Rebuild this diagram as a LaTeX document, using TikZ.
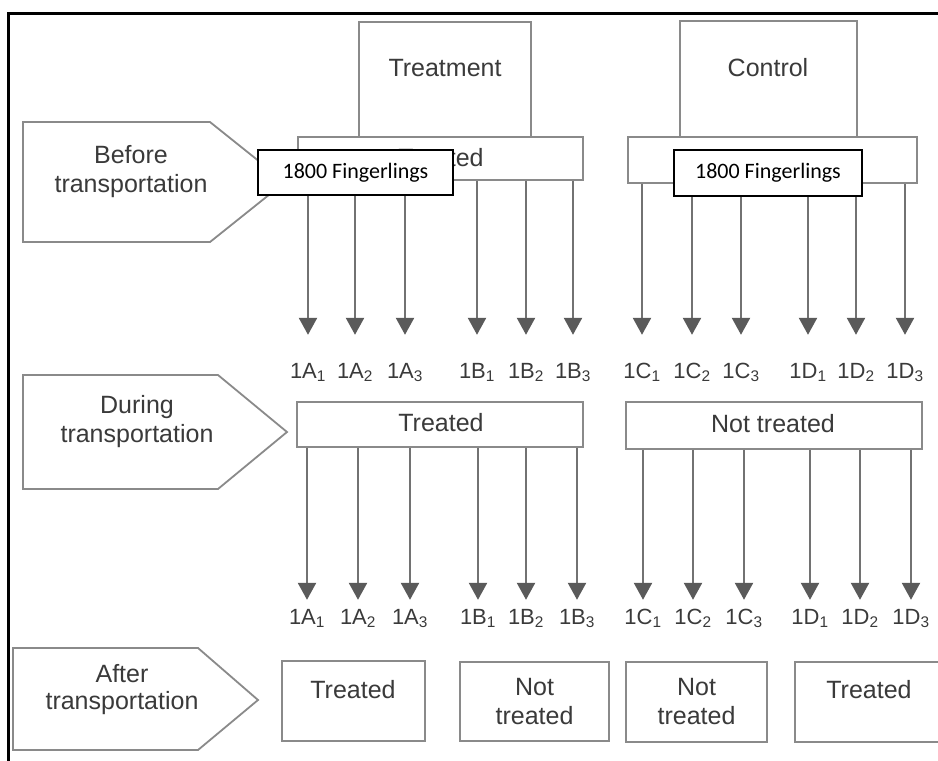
\documentclass[tikz,border=0pt]{standalone}
\usepackage{fontspec}
\setmainfont{Liberation Sans}
\newfontfamily\calibri{Carlito}
\usepackage{xcolor}
\usetikzlibrary{arrows.meta}
\usetikzlibrary{positioning}

\definecolor{boxgray}{HTML}{8A8A8A}
\definecolor{arrgray}{HTML}{727272}
\definecolor{tipgray}{HTML}{5A5A5A}
\definecolor{txtgray}{HTML}{3A3A3A}

\tikzset{
  grpbox/.style={draw=boxgray, line width=1.8pt, fill=white, inner sep=0},
  txt/.style={text=txtgray, font=\fontsize{25}{29}\selectfont, align=center, inner sep=0},
  sublbl/.style={text=txtgray, font=\fontsize{22}{26}\selectfont, anchor=base, inner sep=0, text height=15pt},
  fing/.style={draw=black, line width=1.5pt, fill=white, inner sep=0, font=\calibri\fontsize{22}{26}\selectfont},
  arr/.style={draw=arrgray, line width=2.4pt, -{Triangle[width=18pt,length=17pt,color=tipgray]}},
  stage/.style={draw=boxgray, line width=1.8pt, fill=white},
}

\begin{document}
\begin{tikzpicture}[x=1pt, y=-1pt]
	\useasboundingbox (0,0) rectangle (938,761);
	\clip (0,0) rectangle (938,761);

	% groups
	\node (treatment) at (445,79.5) [grpbox, minimum width=172, minimum height=115] {};
	\node (treatmentTxt) at (445,68) [txt] {Treatment};
	\node (control) at (768.5,79) [grpbox, minimum width=177, minimum height=116] {};
	\node (controlTxt) at (768,68) [txt] {Control};

	% before transportation
	\draw[stage] (23,122) -- (210,122) -- (285,182) -- (210,242) -- (23,242) -- cycle;
	\node (beforeTxt) at (131,172) [txt] {Before\\transportation};
	\node (trtA) at (440.5,158.5) [grpbox, minimum width=285, minimum height=43] {};
	\node (trtATxt) at (441,158) [txt] {Treated};
	\node (ntrA) at (772.5,160) [grpbox, minimum width=289, minimum height=46] {};
	\node (ntrATxt) at (772,160) [txt] {Not treated};

	\foreach \x/\g/\i/\src in {308/A/1/trtA, 355/A/2/trtA, 405/A/3/trtA, 477/B/1/trtA, 526/B/2/trtA, 573/B/3/trtA,
		642/C/1/ntrA, 692/C/2/ntrA, 741/C/3/ntrA, 808/D/1/ntrA, 856/D/2/ntrA, 905/D/3/ntrA}{
		\node (top\g\i) at (\x,378) [sublbl] {1\g\textsubscript{\i}};
		\draw[arr, shorten >=28pt] (\src.south -| top\g\i) -- (top\g\i);
	}

	\node (fingA) at (355.5,172.5) [fing, minimum width=195, minimum height=45] {1800 Fingerlings};
	\node (fingB) at (768,173) [fing, minimum width=188, minimum height=46] {1800 Fingerlings};

	% during transportation
	\draw[stage] (23,375) -- (218,375) -- (287,432) -- (218,489) -- (23,489) -- cycle;
	\node (duringTxt) at (137,422) [txt] {During\\transportation};
	\node (trtB) at (440,424.5) [grpbox, minimum width=286, minimum height=45] {};
	\node (trtBTxt) at (441,423) [txt] {Treated};
	\node (ntrB) at (774,425.5) [grpbox, minimum width=296, minimum height=47] {};
	\node (ntrBTxt) at (773,424) [txt] {Not treated};

	\foreach \x/\g/\i/\src in {307/A/1/trtB, 358/A/2/trtB, 410/A/3/trtB, 478/B/1/trtB, 526/B/2/trtB, 577/B/3/trtB,
		643/C/1/ntrB, 693/C/2/ntrB, 744/C/3/ntrB, 810/D/1/ntrB, 860/D/2/ntrB, 911/D/3/ntrB}{
		\node (low\g\i) at (\x,624) [sublbl] {1\g\textsubscript{\i}};
		\draw[arr, shorten >=9pt] (\src.south -| low\g\i) -- (low\g\i);
	}

	% after transportation
	\draw[stage] (13,648) -- (198,648) -- (258,700) -- (198,750) -- (13,750) -- cycle;
	\node (afterTxt) at (122,690) [txt] {After\\[-2pt]transportation};
	\node (endA) at (353.5,701) [grpbox, minimum width=143, minimum height=80] {};
	\node (endATxt) at (353,690) [txt] {Treated};
	\node (endB) at (534.5,701.5) [grpbox, minimum width=149, minimum height=79, txt] {Not\\treated};
	\node (endC) at (696.5,702) [grpbox, minimum width=141, minimum height=80, txt] {Not\\treated};
	\node (endD) at (869,702) [grpbox, minimum width=148, minimum height=80] {};
	\node (endDTxt) at (869,690) [txt] {Treated};

	% frame
	\draw[line width=3pt] (8,761) -- (8,13) -- (938,13);
\end{tikzpicture}
\end{document}
